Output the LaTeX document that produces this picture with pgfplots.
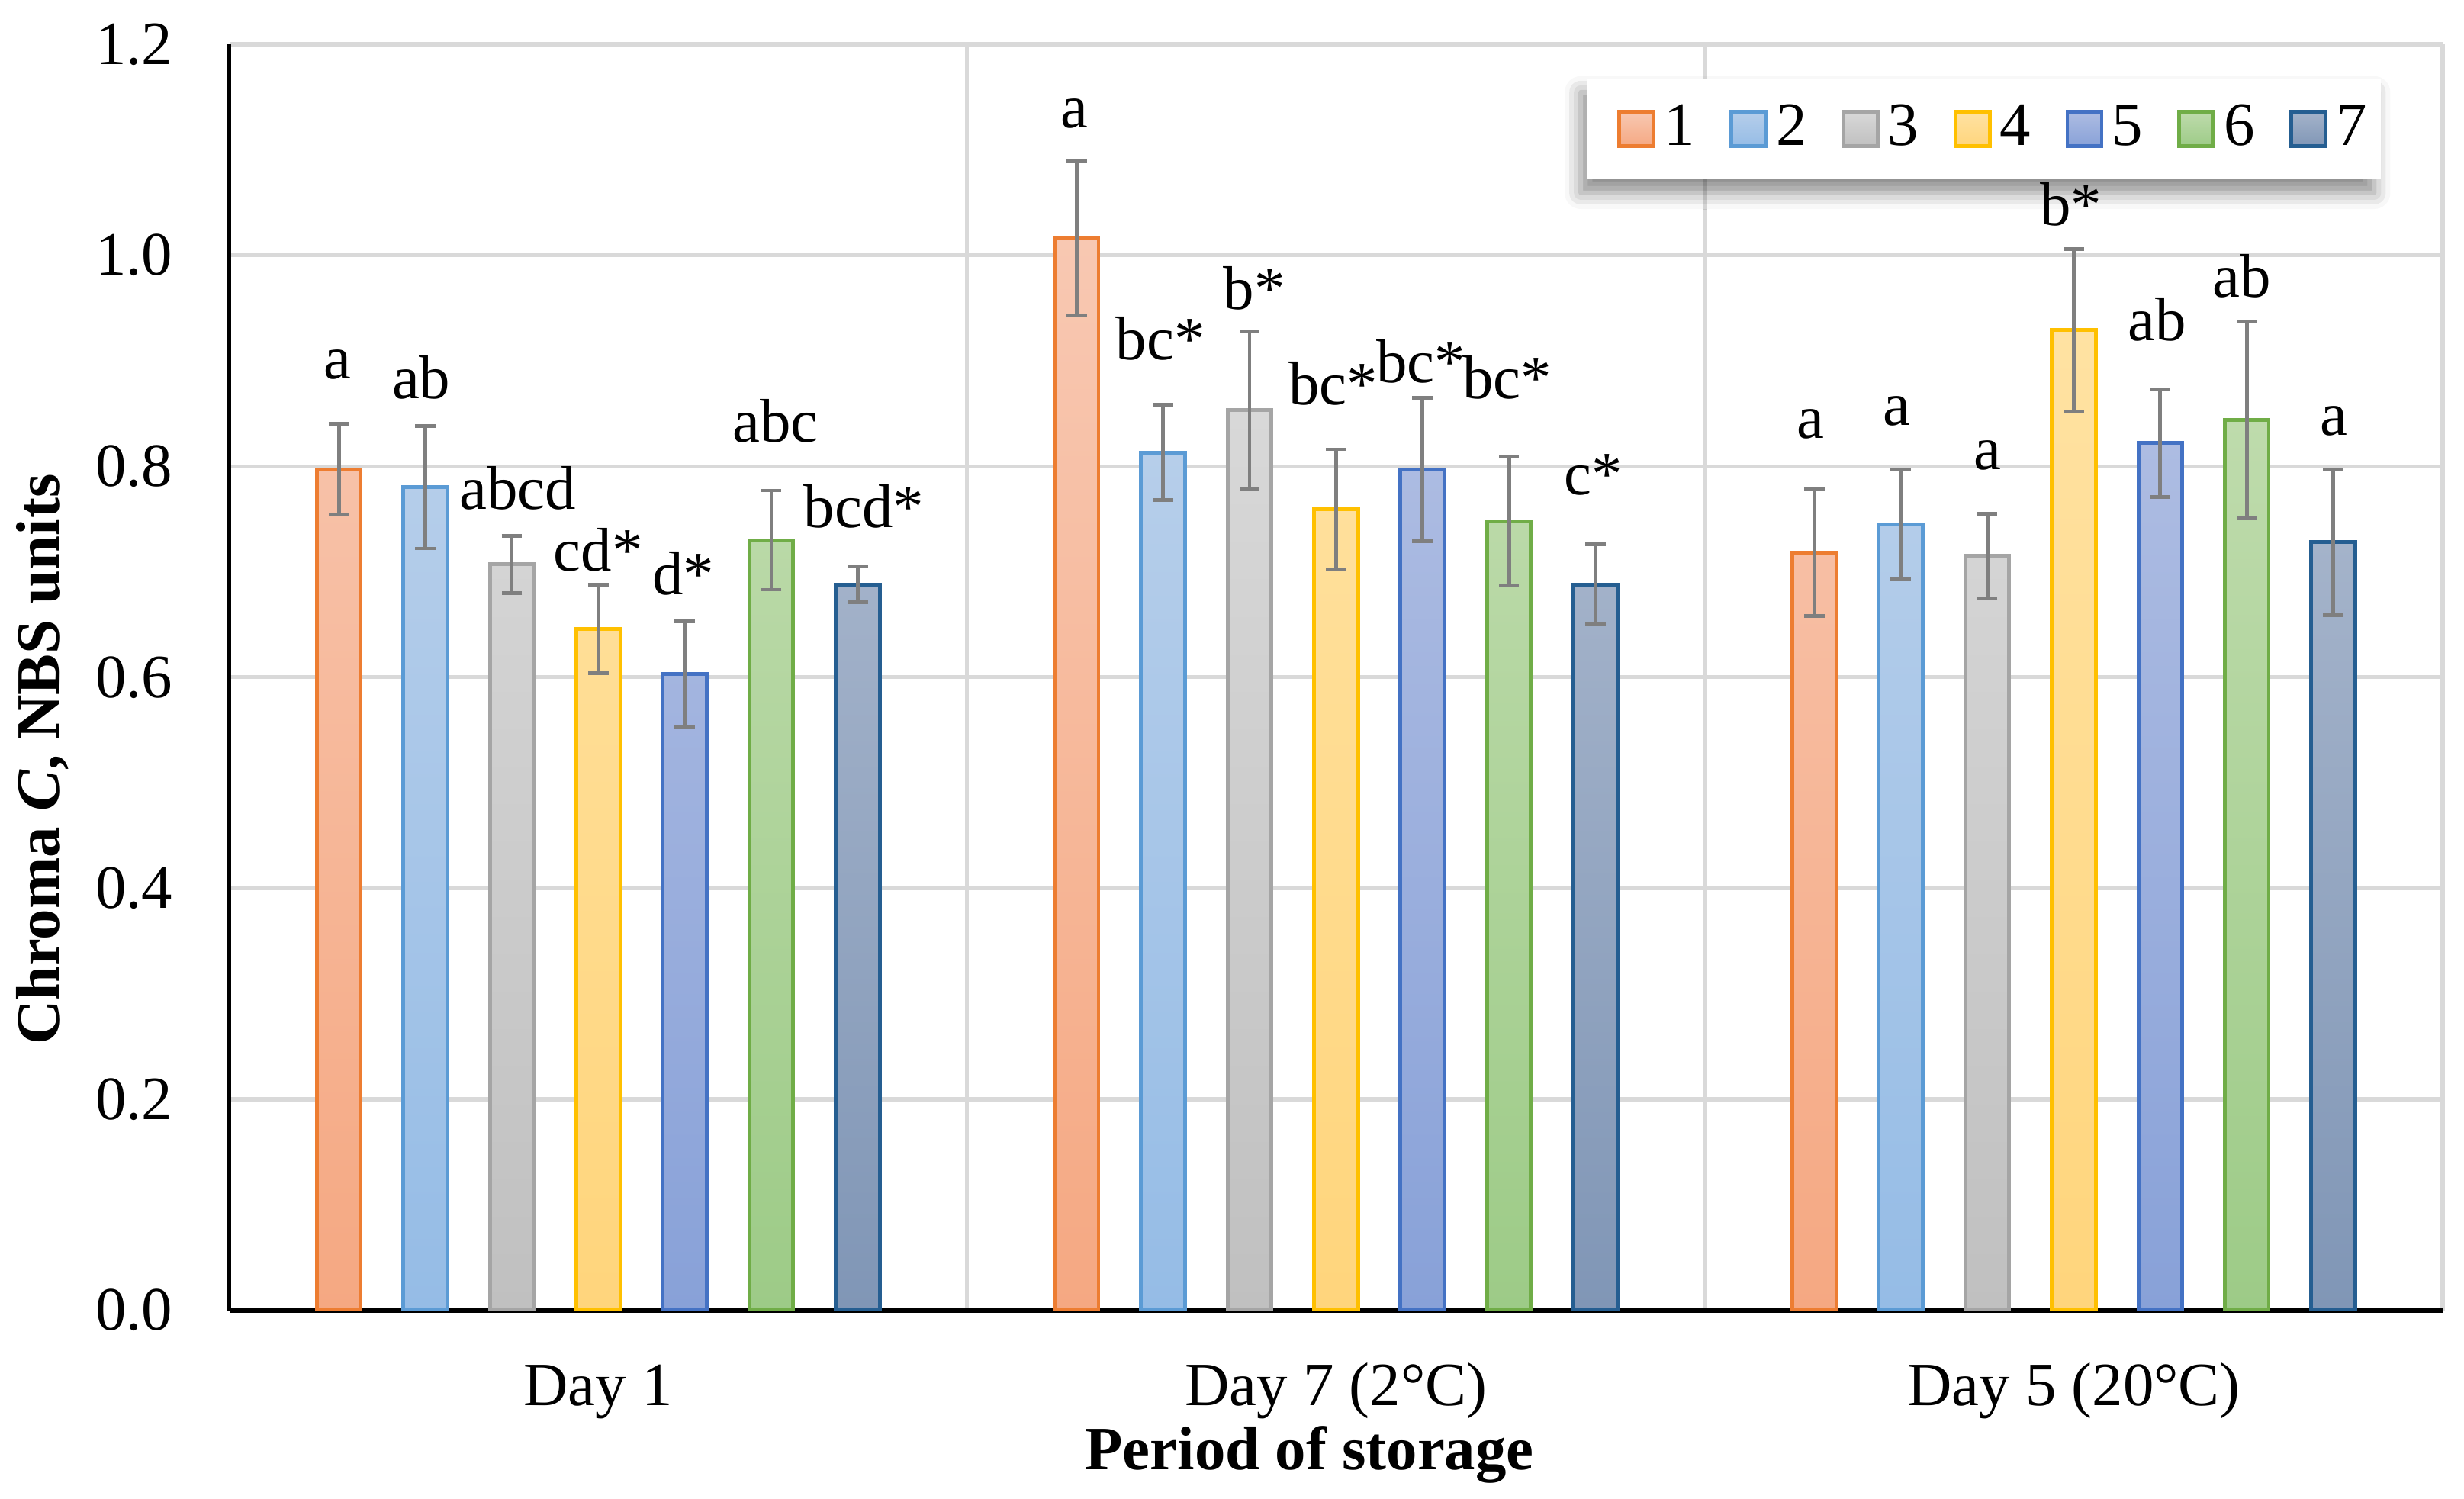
\documentclass[border=0pt]{standalone}
\usepackage{fontspec}
\setmainfont{Liberation Serif}
\usepackage{pgfplots}
\pgfplotsset{compat=1.18}
\usetikzlibrary{shadows,shadows.blur}
\makeatletter
\tikzset{no preactions/.code={\let\tikz@preactions\pgfutil@empty\let\tikz@postactions\pgfutil@empty}}
\makeatother
\newcommand\ff{\fontsize{11.5}{13.8}\selectfont}
\definecolor{gridc}{HTML}{D9D9D9}
\definecolor{errc}{HTML}{7F7F7F}
\definecolor{l1}{HTML}{ED7D31}\definecolor{t1}{HTML}{F8C8B2}\definecolor{b1}{HTML}{F5A882}
\definecolor{l2}{HTML}{5B9BD5}\definecolor{t2}{HTML}{B6CEEA}\definecolor{b2}{HTML}{95BCE6}
\definecolor{l3}{HTML}{A5A5A5}\definecolor{t3}{HTML}{D8D8D8}\definecolor{b3}{HTML}{C0C0C0}
\definecolor{l4}{HTML}{FFC000}\definecolor{t4}{HTML}{FFE2A2}\definecolor{b4}{HTML}{FFD57C}
\definecolor{l5}{HTML}{4472C4}\definecolor{t5}{HTML}{ADBCE2}\definecolor{b5}{HTML}{88A1D8}
\definecolor{l6}{HTML}{70AD47}\definecolor{t6}{HTML}{BEDBAC}\definecolor{b6}{HTML}{9DCB87}
\definecolor{l7}{HTML}{255E91}\definecolor{t7}{HTML}{A4B3CA}\definecolor{b7}{HTML}{8096B6}
\begin{document}
\begin{tikzpicture}
\begin{axis}[
  scale only axis, width=14.51cm, height=8.30cm,
  xmin=-0.5, xmax=2.5, ymin=0, ymax=1.2,
  enlargelimits=false,
  ybar=0.279cm, bar width=0.288cm,
  xtick={0,1,2},
  xticklabels={Day 1, Day 7 (2°C), Day 5 (20°C)},
  minor xtick={0.5,1.5,2.5},
  xminorgrids=true,
  ytick={0,0.2,0.4,0.6,0.8,1.0,1.2},
  ymajorgrids=true,
  major grid style={color=gridc, line width=0.75pt},
  minor grid style={color=gridc, line width=0.75pt},
  major tick length=0pt, minor tick length=0pt,
  axis x line*=bottom, axis y line*=left,
  x axis line style={line width=1.0pt, -},
  y axis line style={line width=0.7pt, -},
  /pgf/number format/assume math mode=true,
  ticklabel style={font=\ff},
  yticklabel style={/pgf/number format/fixed, /pgf/number format/fixed zerofill, /pgf/number format/precision=1, inner sep=0pt, anchor=east, xshift=-0.365cm},
  xticklabel style={anchor=base, inner sep=0pt, yshift=-0.625cm},
  xlabel={\textbf{Period of storage}},
  xlabel style={font=\ff, at={(axis description cs:0.488,0)}, anchor=base, inner sep=0pt, yshift=-1.045cm},
  ylabel={\textbf{Chroma \textit{C}, NBS units}},
  ylabel style={font=\ff, at={(axis description cs:0,0.435)}, anchor=center, inner sep=0pt, yshift=1.226cm},
  legend columns=7,
  legend style={at={(0.613,0.9735)}, anchor=north west, draw=none, fill=white,
    font=\ff, inner xsep=0.09cm, inner ysep=0.17cm,
    nodes={inner sep=0pt},
    /tikz/every odd column/.append style={column sep=0.056cm},
    /tikz/every even column/.append style={column sep=0.119cm},
    blur shadow={shadow xshift=-1.2pt, shadow yshift=-2.5pt, shadow blur radius=3pt, shadow opacity=45}},
  legend image code/.code={\pgfpathmoveto{\pgfpoint{-0.12cm}{0cm}}\pgfusepath{discard}%
     \draw[no preactions,#1,/tikz/.cd,line width=0.7pt] (0cm,-0.1125cm) rectangle (0.225cm,0.1125cm);},
  error bars/error bar style={line width=0.7pt, color=errc},
  error bars/error mark options={rotate=90, mark size=1.9pt, line width=0.7pt, color=errc},
]
\addplot[draw=l1, line width=0.7pt, top color=t1, bottom color=b1,
  error bars/.cd, y dir=both, y explicit]
  coordinates {(0,0.797) +- (0,0.043) (1,1.016) +- (0,0.073) (2,0.718) +- (0,0.060)};
\addplot[draw=l2, line width=0.7pt, top color=t2, bottom color=b2,
  error bars/.cd, y dir=both, y explicit]
  coordinates {(0,0.780) +- (0,0.058) (1,0.813) +- (0,0.045) (2,0.745) +- (0,0.052)};
\addplot[draw=l3, line width=0.7pt, top color=t3, bottom color=b3,
  error bars/.cd, y dir=both, y explicit]
  coordinates {(0,0.707) +- (0,0.027) (1,0.853) +- (0,0.075) (2,0.715) +- (0,0.040)};
\addplot[draw=l4, line width=0.7pt, top color=t4, bottom color=b4,
  error bars/.cd, y dir=both, y explicit]
  coordinates {(0,0.646) +- (0,0.042) (1,0.759) +- (0,0.057) (2,0.929) +- (0,0.077)};
\addplot[draw=l5, line width=0.7pt, top color=t5, bottom color=b5,
  error bars/.cd, y dir=both, y explicit]
  coordinates {(0,0.603) +- (0,0.050) (1,0.797) +- (0,0.068) (2,0.822) +- (0,0.051)};
\addplot[draw=l6, line width=0.7pt, top color=t6, bottom color=b6,
  error bars/.cd, y dir=both, y explicit]
  coordinates {(0,0.730) +- (0,0.047) (1,0.748) +- (0,0.061) (2,0.844) +- (0,0.093)};
\addplot[draw=l7, line width=0.7pt, top color=t7, bottom color=b7,
  error bars/.cd, y dir=both, y explicit]
  coordinates {(0,0.688) +- (0,0.017) (1,0.688) +- (0,0.038) (2,0.728) +- (0,0.069)};
\legend{1,2,3,4,5,6,7}
\begin{scope}[every node/.style={font=\ff, inner sep=0pt, anchor=center}]
\node at (axis cs:-0.353,0.896) {a};
\node at (axis cs:-0.240,0.884) {ab};
\node at (axis cs:-0.109,0.779) {abcd};
\node at (axis cs:0.000,0.721) {cd*};
\node at (axis cs:0.115,0.698) {d*};
\node at (axis cs:0.240,0.843) {abc};
\node at (axis cs:0.360,0.762) {bcd*};
\node at (axis cs:0.645,1.134) {a};
\node at (axis cs:0.762,0.921) {bc*};
\node at (axis cs:0.889,0.969) {b*};
\node at (axis cs:0.996,0.878) {bc*};
\node at (axis cs:1.115,0.899) {bc*};
\node at (axis cs:1.232,0.884) {bc*};
\node at (axis cs:1.349,0.792) {c*};
\node at (axis cs:1.643,0.840) {a};
\node at (axis cs:1.760,0.852) {a};
\node at (axis cs:1.883,0.810) {a};
\node at (axis cs:1.996,1.048) {b*};
\node at (axis cs:2.113,0.939) {ab};
\node at (axis cs:2.228,0.980) {ab};
\node at (axis cs:2.353,0.843) {a};
\end{scope}
\end{axis}
\pgfresetboundingbox
\path[use as bounding box] (-1.504cm,-1.236cm) rectangle (14.65cm,8.59cm);
\end{tikzpicture}
\end{document}
